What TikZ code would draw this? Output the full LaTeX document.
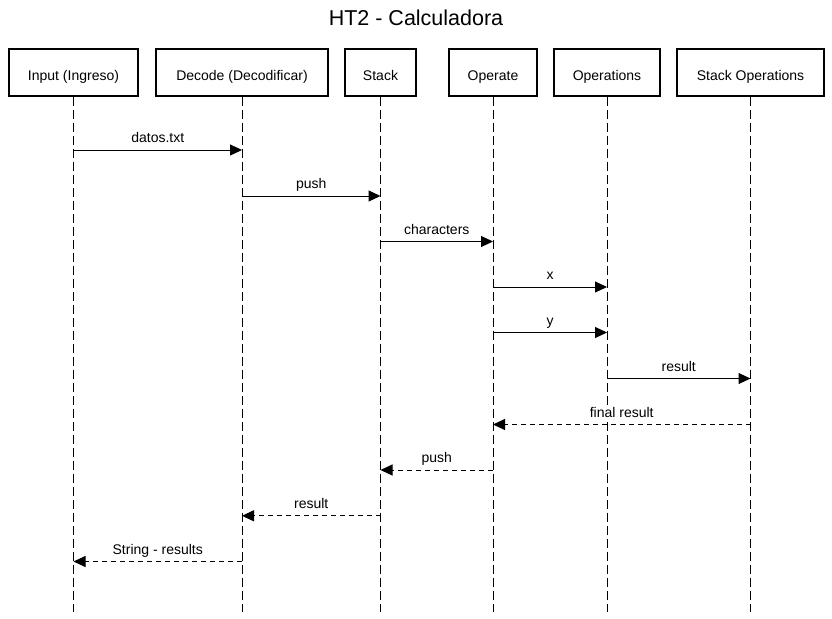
\documentclass[tikz,border=0pt]{standalone}
\usepackage{fontspec}
\setmainfont{Liberation Sans}
\usetikzlibrary{arrows.meta,positioning}

\begin{document}
\begin{tikzpicture}[x=1pt,y=-1pt,
  actor/.style={draw,line width=2pt,minimum height=46pt,inner sep=0pt,text height=15pt,text depth=0pt,font=\fontsize{14}{16}\selectfont},
  lifeline/.style={line width=1pt,dash pattern=on 9pt off 4pt},
  call/.style={line width=1pt,-{Triangle[length=12pt,width=11pt]}},
  reply/.style={call,dash pattern=on 5pt off 4pt},
  lbl/.style={above=2pt,inner sep=2pt,text height=10pt,text depth=3pt,font=\fontsize{14}{16}\selectfont}]
\useasboundingbox (0,0) rectangle (832,618);
\node[font=\fontsize{21.5}{24}\selectfont] (title) at (416,18) {HT2 - Calculadora};
\node[actor,minimum width=129pt] (inp) at (73.5,72.5) {Input (Ingreso)};
\node[actor,minimum width=172pt] (dec) at (242,72.5) {Decode (Decodificar)};
\node[actor,minimum width=71pt] (stk) at (380.5,72.5) {Stack};
\node[actor,minimum width=88pt] (opr) at (493,72.5) {Operate};
\node[actor,minimum width=106pt] (ops) at (607,72.5) {Operations};
\node[actor,minimum width=147pt] (sop) at (750.5,72.5) {Stack Operations};
\coordinate (bot) at (0,612);
\coordinate (m1) at (0,150);
\coordinate (m2) at (0,196);
\coordinate (m3) at (0,241.5);
\coordinate (m4) at (0,287);
\coordinate (m5) at (0,332.5);
\coordinate (m6) at (0,378.5);
\coordinate (m7) at (0,424.5);
\coordinate (m8) at (0,470);
\coordinate (m9) at (0,515.8);
\coordinate (m10) at (0,561.5);
% lifelines
\draw[lifeline] (inp) -- (inp |- bot);
\draw[lifeline] (dec) -- (dec |- bot);
\draw[lifeline] (stk) -- (stk |- bot);
\draw[lifeline] (opr) -- (opr |- bot);
\draw[lifeline] (ops) -- (ops |- bot);
\draw[lifeline] (sop) -- (sop |- bot);
% messages
\draw[call] (inp |- m1) -- node[lbl] {datos.txt} (dec |- m1);
\draw[call] (dec |- m2) -- node[lbl] {push} (stk |- m2);
\draw[call] (stk |- m3) -- node[lbl] {characters} (opr |- m3);
\draw[call] (opr |- m4) -- node[lbl] {x} (ops |- m4);
\draw[call] (opr |- m5) -- node[lbl] {y} (ops |- m5);
\draw[call] (ops |- m6) -- node[lbl] {result} (sop |- m6);
\draw[reply] (sop |- m7) -- node[lbl,fill=white] {final result} (opr |- m7);
\draw[reply] (opr |- m8) -- node[lbl] {push} (stk |- m8);
\draw[reply] (stk |- m9) -- node[lbl] {result} (dec |- m9);
\draw[reply] (dec |- m10) -- node[lbl] {String - results} (inp |- m10);
\end{tikzpicture}
\end{document}
